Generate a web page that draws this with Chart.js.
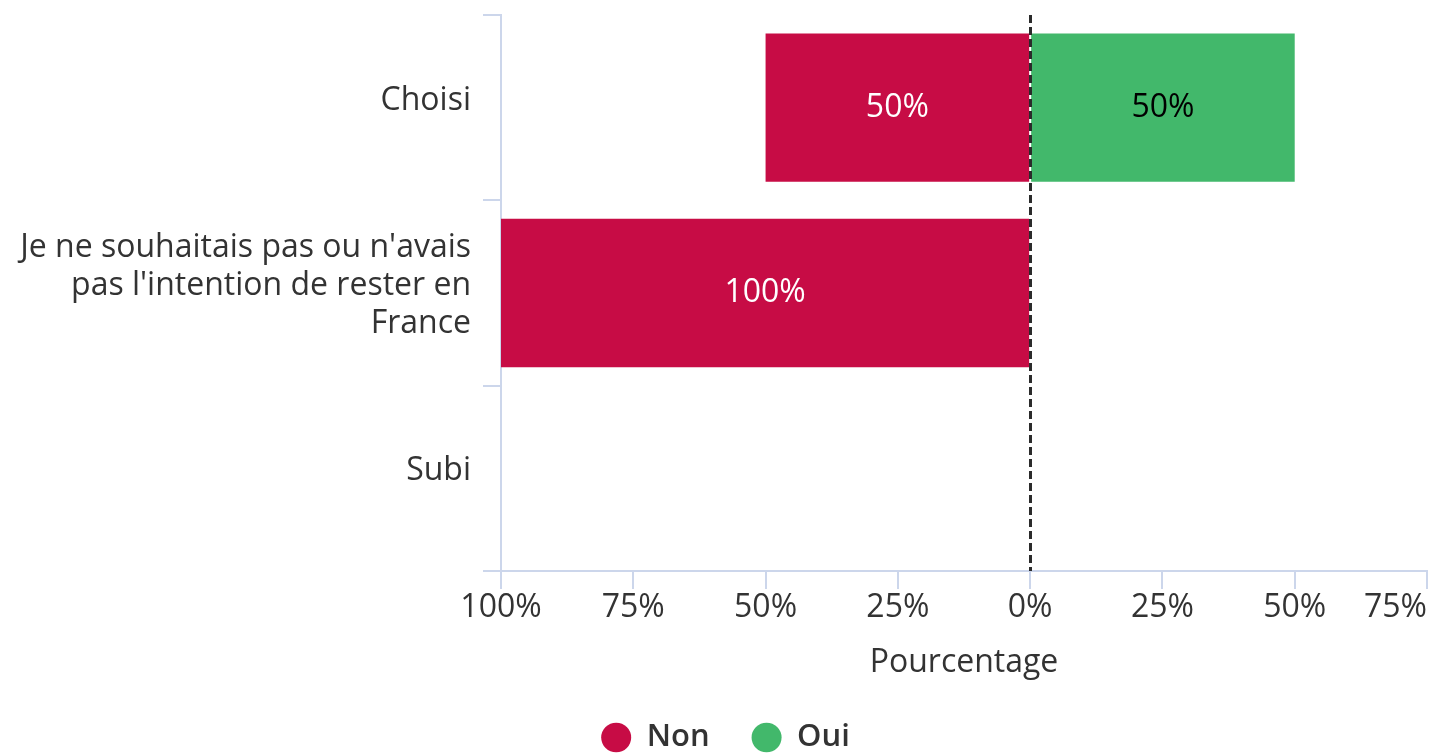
<!DOCTYPE html>
<html>
<head>
<meta charset="utf-8">
<script src="https://cdn.jsdelivr.net/npm/chart.js@4.4.1/dist/chart.umd.min.js"></script>
<style>
  html, body { margin: 0; padding: 0; background: #fff; }
  #wrap { width: 1432px; height: 756px; position: relative; }
</style>
</head>
<body>
<div id="wrap"><canvas id="chart"></canvas></div>
<script>
// categories and values (percent)
var categories = ['Choisi', ["Je ne souhaitais pas ou n'avais", "pas l'intention de rester en", "France"], 'Subi'];
var nonPct = [50, 100, null];
var ouiPct = [50, null, null];
var xTicks = [-100, -75, -50, -25, 0, 25, 50, 75];

var FONT = "'Open Sans', sans-serif";
var FS = 32;
var AXIS = '#ccd6eb';
var TXT = '#333333';
var TICK_PAD = 0;

// values inside the bars + dashed zero line
var barLabels = {
  id: 'barLabels',
  afterDatasetsDraw: function(chart) {
    var ctx = chart.ctx;
    ctx.save();
    ctx.font = FS + 'px ' + FONT;
    ctx.textAlign = 'center';
    ctx.textBaseline = 'middle';
    chart.data.datasets.forEach(function(ds, di) {
      var meta = chart.getDatasetMeta(di);
      meta.data.forEach(function(el, i) {
        var v = ds.data[i];
        if (v == null || v === 0) return;
        ctx.fillStyle = di === 0 ? '#ffffff' : '#000000';
        ctx.fillText(Math.abs(v) + '%', (el.x + el.base) / 2, el.y);
      });
    });
    var xs = chart.scales.x, area = chart.chartArea;
    var x0 = Math.round(xs.getPixelForValue(0)) + 0.5;
    ctx.strokeStyle = '#2b2b2b';
    ctx.lineWidth = 3;
    ctx.setLineDash([8, 4]);
    ctx.beginPath();
    ctx.moveTo(x0, area.top);
    ctx.lineTo(x0, area.bottom);
    ctx.stroke();
    ctx.restore();
  },
  afterDraw: function(chart) {
    // last x tick label, right aligned so it stays inside the canvas
    var xs = chart.scales.x, ctx = chart.ctx;
    var last = xTicks[xTicks.length - 1];
    ctx.save();
    ctx.font = FS + 'px ' + FONT;
    ctx.fillStyle = TXT;
    ctx.textAlign = 'right';
    ctx.textBaseline = 'middle';
    ctx.fillText(Math.abs(last) + '%', xs.getPixelForValue(last), xs.top + 18 + TICK_PAD + FS * 1.2 / 2);
    ctx.restore();
  },
  afterLayout: function(chart) {
    var lg = chart.legend;
    lg.top += 7; lg.bottom += 7;
    lg.left += 12; lg.right += 12;
  }
};

new Chart(document.getElementById('chart'), {
  type: 'bar',
  data: {
    labels: categories,
    datasets: [
      { label: 'Non', data: nonPct.map(function(v){ return v == null ? null : -v; }), backgroundColor: '#c70c45', borderWidth: 0 },
      { label: 'Oui', data: ouiPct, backgroundColor: '#42b86b', borderWidth: 0 }
    ]
  },
  options: {
    indexAxis: 'y',
    responsive: true,
    maintainAspectRatio: false,
    animation: false,
    layout: { padding: { top: 15, right: 5, left: 0, bottom: 0 } },
    datasets: { bar: { barPercentage: 1, categoryPercentage: 0.8 } },
    scales: {
      x: {
        type: 'linear', stacked: true, min: -100, max: 75,
        afterBuildTicks: function(s) { s.ticks = xTicks.map(function(v){ return { value: v }; }); },
        afterFit: function(s) { s.height = 102; s.paddingRight = 0; },
        grid: { drawOnChartArea: false, drawTicks: true, tickLength: 18, color: AXIS, lineWidth: 2 },
        border: { color: AXIS, width: 2 },
        ticks: {
          font: { family: FONT, size: FS }, color: TXT, padding: TICK_PAD, maxRotation: 0, autoSkip: false,
          callback: function(v) { return v === xTicks[xTicks.length - 1] ? '' : Math.abs(v) + '%'; }
        },
        title: { display: true, text: 'Pourcentage', font: { family: FONT, size: FS, lineHeight: 0.65 }, color: TXT, padding: { top: 4, bottom: 0 } }
      },
      y: {
        stacked: true,
        afterFit: function(s) { s.width = 501; s.paddingTop = 0; s.paddingBottom = 0; },
        grid: { offset: true, drawOnChartArea: false, drawTicks: true, tickLength: 18, color: AXIS, lineWidth: 2 },
        border: { color: AXIS, width: 2 },
        ticks: { font: { family: FONT, size: FS, lineHeight: 1.19 }, color: TXT, padding: 12, labelOffset: -7 }
      }
    },
    plugins: {
      legend: {
        position: 'bottom',
        labels: {
          usePointStyle: true, pointStyle: 'circle', boxHeight: 21, pointStyleWidth: 30,
          padding: 42, color: TXT,
          font: { family: FONT, size: 31, weight: '600' }
        }
      },
      tooltip: { enabled: false }
    }
  },
  plugins: [barLabels]
});
</script>
</body>
</html>
